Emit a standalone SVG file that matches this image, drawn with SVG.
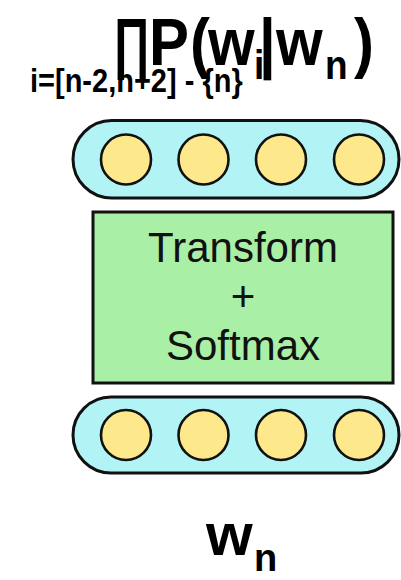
<svg xmlns="http://www.w3.org/2000/svg" width="401" height="580" viewBox="0 0 401 580">
<style>
.cap{fill:#b2f3f6;stroke:#111;stroke-width:3}
.unit{fill:#fde98c;stroke:#111;stroke-width:2.6}
.box{fill:#a9efa6;stroke:#111;stroke-width:3}
.lbl{font-family:"Liberation Sans",Arial,sans-serif;font-size:42px;fill:#111;text-anchor:middle}
.f{font-family:"Liberation Sans",Arial,sans-serif;font-weight:bold;fill:#000}
.s{font-size:37px}
</style>
<rect width="401" height="580" fill="#fff"/>
<g id="formula">
<g transform="translate(0,65) scale(1,1.12)">
<text class="f" font-size="60" y="0"><tspan x="113" textLength="37" lengthAdjust="spacingAndGlyphs">∏</tspan><tspan x="149">P</tspan><tspan x="190">(</tspan><tspan x="208">w</tspan><tspan class="s" x="254" y="12.5">i</tspan><tspan x="259" y="0">|</tspan><tspan x="276">w</tspan><tspan class="s" x="325" y="12.5">n</tspan><tspan x="354" y="0">)</tspan></text>
</g>
<text class="f" x="30" y="92" font-size="29" transform="translate(0,-13.8) scale(1,1.15)">i=[n-2,n+2] - {n}</text>
</g>
<g id="output-layer">
<rect class="cap" x="73" y="120.5" width="326" height="77.5" rx="38.75"/>
<circle class="unit" cx="126" cy="159.5" r="25"/>
<circle class="unit" cx="203.5" cy="159.5" r="25"/>
<circle class="unit" cx="281" cy="159.5" r="25"/>
<circle class="unit" cx="359" cy="159.5" r="25"/>
</g>
<g id="transform">
<rect class="box" x="93" y="212" width="300" height="171"/>
<text class="lbl" x="243" y="262">Transform</text>
<text class="lbl" x="243" y="311">+</text>
<text class="lbl" x="243" y="360">Softmax</text>
</g>
<g id="input-layer">
<rect class="cap" x="73" y="397" width="326" height="76" rx="38"/>
<circle class="unit" cx="126" cy="435" r="25"/>
<circle class="unit" cx="203.5" cy="435" r="25"/>
<circle class="unit" cx="281" cy="435" r="25"/>
<circle class="unit" cx="359" cy="435" r="25"/>
</g>
<g id="input-label">
<text class="f" font-size="60" x="206" y="555">w<tspan x="254" y="571" font-size="38">n</tspan></text>
</g>
<g id="connectors"/>
</svg>
